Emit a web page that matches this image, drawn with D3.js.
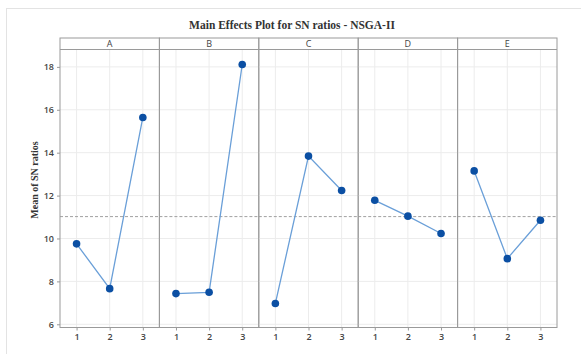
<!DOCTYPE html>
<html>
<head>
<meta charset="utf-8">
<script src="https://cdn.jsdelivr.net/npm/d3@7"></script>
<style>
body { margin: 0; background: #fff; }
svg { display: block; }
</style>
</head>
<body>
<svg width="581" height="354"></svg>
<script>
var factors = ['A', 'B', 'C', 'D', 'E'];
var levels = ['1', '2', '3'];
var yTicks = [6, 8, 10, 12, 14, 16, 18];

// mean SN ratio for each factor, levels 1..3
var snA = [9.75, 7.66, 15.64];
var snB = [7.43, 7.49, 18.11];
var snC = [6.97, 13.84, 12.24];
var snD = [11.78, 11.04, 10.23];
var snE = [13.15, 9.06, 10.85];

var overallMean = 11.02;

// note: "top" is taken by window.top, so use plot* names
var plotLeft = 60, plotRight = 557, stripTop = 38, stripH = 11.5, plotBottom = 327.5;

function drawChart()
{
    var svg = d3.select("svg");
    var series = [snA, snB, snC, snD, snE];

    // outer frame of the picture
    svg.append("rect")
        .attr("x", 6.5).attr("y", 8.5)
        .attr("width", 590).attr("height", 360)
        .attr("fill", "none")
        .attr("stroke", "#e3e3e3");

    svg.append("text")
        .attr("x", 292).attr("y", 29)
        .attr("text-anchor", "middle")
        .attr("font-family", "Liberation Serif, Times New Roman, serif")
        .attr("font-weight", "bold")
        .attr("font-size", 11.5)
        .attr("fill", "#333")
        .text("Main Effects Plot for SN ratios - NSGA-II");

    svg.append("text")
        .attr("transform", "translate(38,180) rotate(-90)")
        .attr("text-anchor", "middle")
        .attr("font-family", "Liberation Serif, Times New Roman, serif")
        .attr("font-weight", "bold")
        .attr("font-size", 10)
        .attr("fill", "#333")
        .text("Mean of SN ratios");

    var plotTop = stripTop + stripH;
    var y = d3.scaleLinear().domain([5.85, 18.81]).range([plotBottom, plotTop]);
    var panel = d3.scaleBand().domain(factors).range([plotLeft, plotRight]);
    var x = d3.scalePoint().domain(levels).range([0, panel.bandwidth()]).padding(0.5);

    // y axis
    var yAxis = svg.append("g")
        .attr("transform", "translate(" + plotLeft + ",0)")
        .call(d3.axisLeft(y).tickValues(yTicks).tickSize(3).tickPadding(3));
    yAxis.select(".domain").remove();
    yAxis.selectAll("line").attr("stroke", "#999");
    yAxis.selectAll("text")
        .attr("font-family", "Open Sans, DejaVu Sans, sans-serif")
        .attr("font-size", 9)
        .attr("font-weight", "600")
        .attr("fill", "#444");

    factors.forEach(function(f, i)
    {
        var x0 = panel(f);
        var g = svg.append("g").attr("transform", "translate(" + x0 + ",0)");
        var w = panel.bandwidth();

        // grid
        g.selectAll("line.hgrid")
            .data(yTicks)
            .enter().append("line")
            .attr("class", "hgrid")
            .attr("x1", 0).attr("x2", w)
            .attr("y1", function(d) { return y(d); })
            .attr("y2", function(d) { return y(d); })
            .attr("stroke", "#ececec");
        g.selectAll("line.vgrid")
            .data(levels)
            .enter().append("line")
            .attr("class", "vgrid")
            .attr("x1", function(d) { return x(d); })
            .attr("x2", function(d) { return x(d); })
            .attr("y1", plotTop).attr("y2", plotBottom)
            .attr("stroke", "#ececec");

        // reference line
        g.append("line")
            .attr("x1", 0).attr("x2", w)
            .attr("y1", y(overallMean)).attr("y2", y(overallMean))
            .attr("stroke", "#a0a0a0")
            .attr("stroke-dasharray", "3,2");

        // x axis
        var xAxis = g.append("g")
            .attr("transform", "translate(0," + plotBottom + ")")
            .call(d3.axisBottom(x).tickSize(3).tickPadding(3));
        xAxis.select(".domain").remove();
        xAxis.selectAll("line").attr("stroke", "#999");
        xAxis.selectAll("text")
            .attr("font-family", "Open Sans, DejaVu Sans, sans-serif")
            .attr("font-size", 9)
            .attr("font-weight", "600")
            .attr("fill", "#444");

        // panel frame + strip
        g.append("rect")
            .attr("x", 0).attr("y", stripTop)
            .attr("width", w).attr("height", plotBottom - stripTop)
            .attr("fill", "none")
            .attr("stroke", "#9a9a9a");
        g.append("line")
            .attr("x1", 0).attr("x2", w)
            .attr("y1", plotTop).attr("y2", plotTop)
            .attr("stroke", "#9a9a9a");
        g.append("text")
            .attr("x", w / 2).attr("y", stripTop + 9)
            .attr("text-anchor", "middle")
            .attr("font-family", "Open Sans, DejaVu Sans, sans-serif")
            .attr("font-size", 9)
            .attr("fill", "#444")
            .text(f);

        // data
        var line = d3.line()
            .x(function(d, j) { return x(levels[j]); })
            .y(function(d) { return y(d); });
        g.append("path")
            .datum(series[i])
            .attr("d", line)
            .attr("fill", "none")
            .attr("stroke", "#6a9fd8")
            .attr("stroke-width", 1.3);
        g.selectAll("circle")
            .data(series[i])
            .enter().append("circle")
            .attr("cx", function(d, j) { return x(levels[j]); })
            .attr("cy", function(d) { return y(d); })
            .attr("r", 3.8)
            .attr("fill", "#0b4fa3");
    });
}

drawChart();
</script>
</body>
</html>
